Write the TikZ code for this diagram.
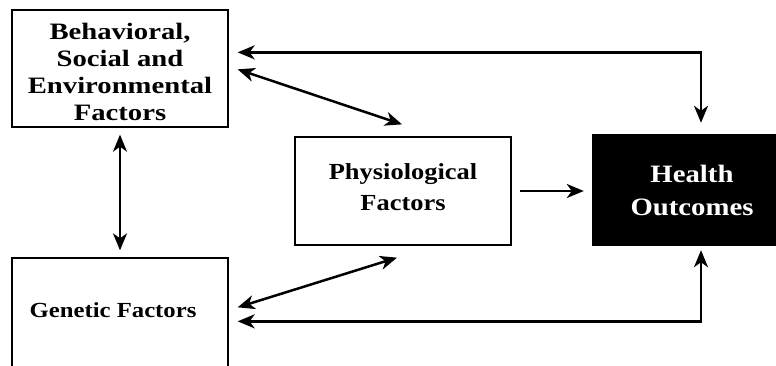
\documentclass[tikz,border=0pt]{standalone}
\usepackage{fontspec}
\setmainfont{Liberation Serif}[FakeStretch=1.15]
\newfontfamily\widefont{Liberation Serif}[FakeStretch=1.22]
\usetikzlibrary{arrows.meta}
\begin{document}
\begin{tikzpicture}[x=1pt,y=1pt,
  box/.style={draw=black,line width=1.3pt,fill=white,inner sep=0pt},
  darkbox/.style={draw=black,fill=black,inner sep=0pt},
  txt/.style={align=center,inner sep=0pt},
  tip/.tip={Stealth[length=17pt,width=14pt,inset=5pt]},
  arr/.style={line width=2.5pt,-tip},
  arrb/.style={line width=2.5pt,tip-tip}]
\useasboundingbox (0,0) rectangle (776,365);
\clip (0,0) rectangle (776,365);
\node[box,minimum width=216pt,minimum height=117pt] (beh) at (120,296.5) {};
\node[txt,font=\widefont\bfseries\fontsize{23.5}{27}\selectfont] (beht) at (120,293)
  {Behavioral,\\ Social and\\ Environmental\\ Factors};
\node[box,minimum width=216pt,minimum height=142pt] (gen) at (120,36) {};
\node[txt,font=\bfseries\fontsize{21.5}{27}\selectfont] (gent) at (113,55) {Genetic Factors};
\node[box,minimum width=216pt,minimum height=108pt] (phys) at (403,174) {};
\node[txt,font=\bfseries\fontsize{23}{31}\selectfont] (physt) at (403,177.5)
  {Physiological\\ Factors};
\node[darkbox,minimum width=200pt,minimum height=111pt] (health) at (692,175.5) {};
\node[txt,text=white,font=\bfseries\fontsize{25}{33}\selectfont] (healtht) at (692,175)
  {Health\\ Outcomes};
\draw[arrb] ([shift={(9,-43)}]beh.north east) -| ([shift={(9,11)}]health.north);
\draw[arrb] ([shift={(9,-60)}]beh.north east) -- ([shift={(-1,12)}]phys.north);
\draw[arrb] ([yshift=-7]beh.south) -- ([yshift=7]gen.north);
\draw[arr] ([xshift=8]phys.east) -- ([xshift=-8]phys.east -| health.west);
\draw[arrb] ([shift={(9,-50)}]gen.north east) -- ([shift={(-6,-12)}]phys.south);
\draw[arrb] ([shift={(9,-64)}]gen.north east) -| ([shift={(9,-5)}]health.south);
\end{tikzpicture}
\end{document}
